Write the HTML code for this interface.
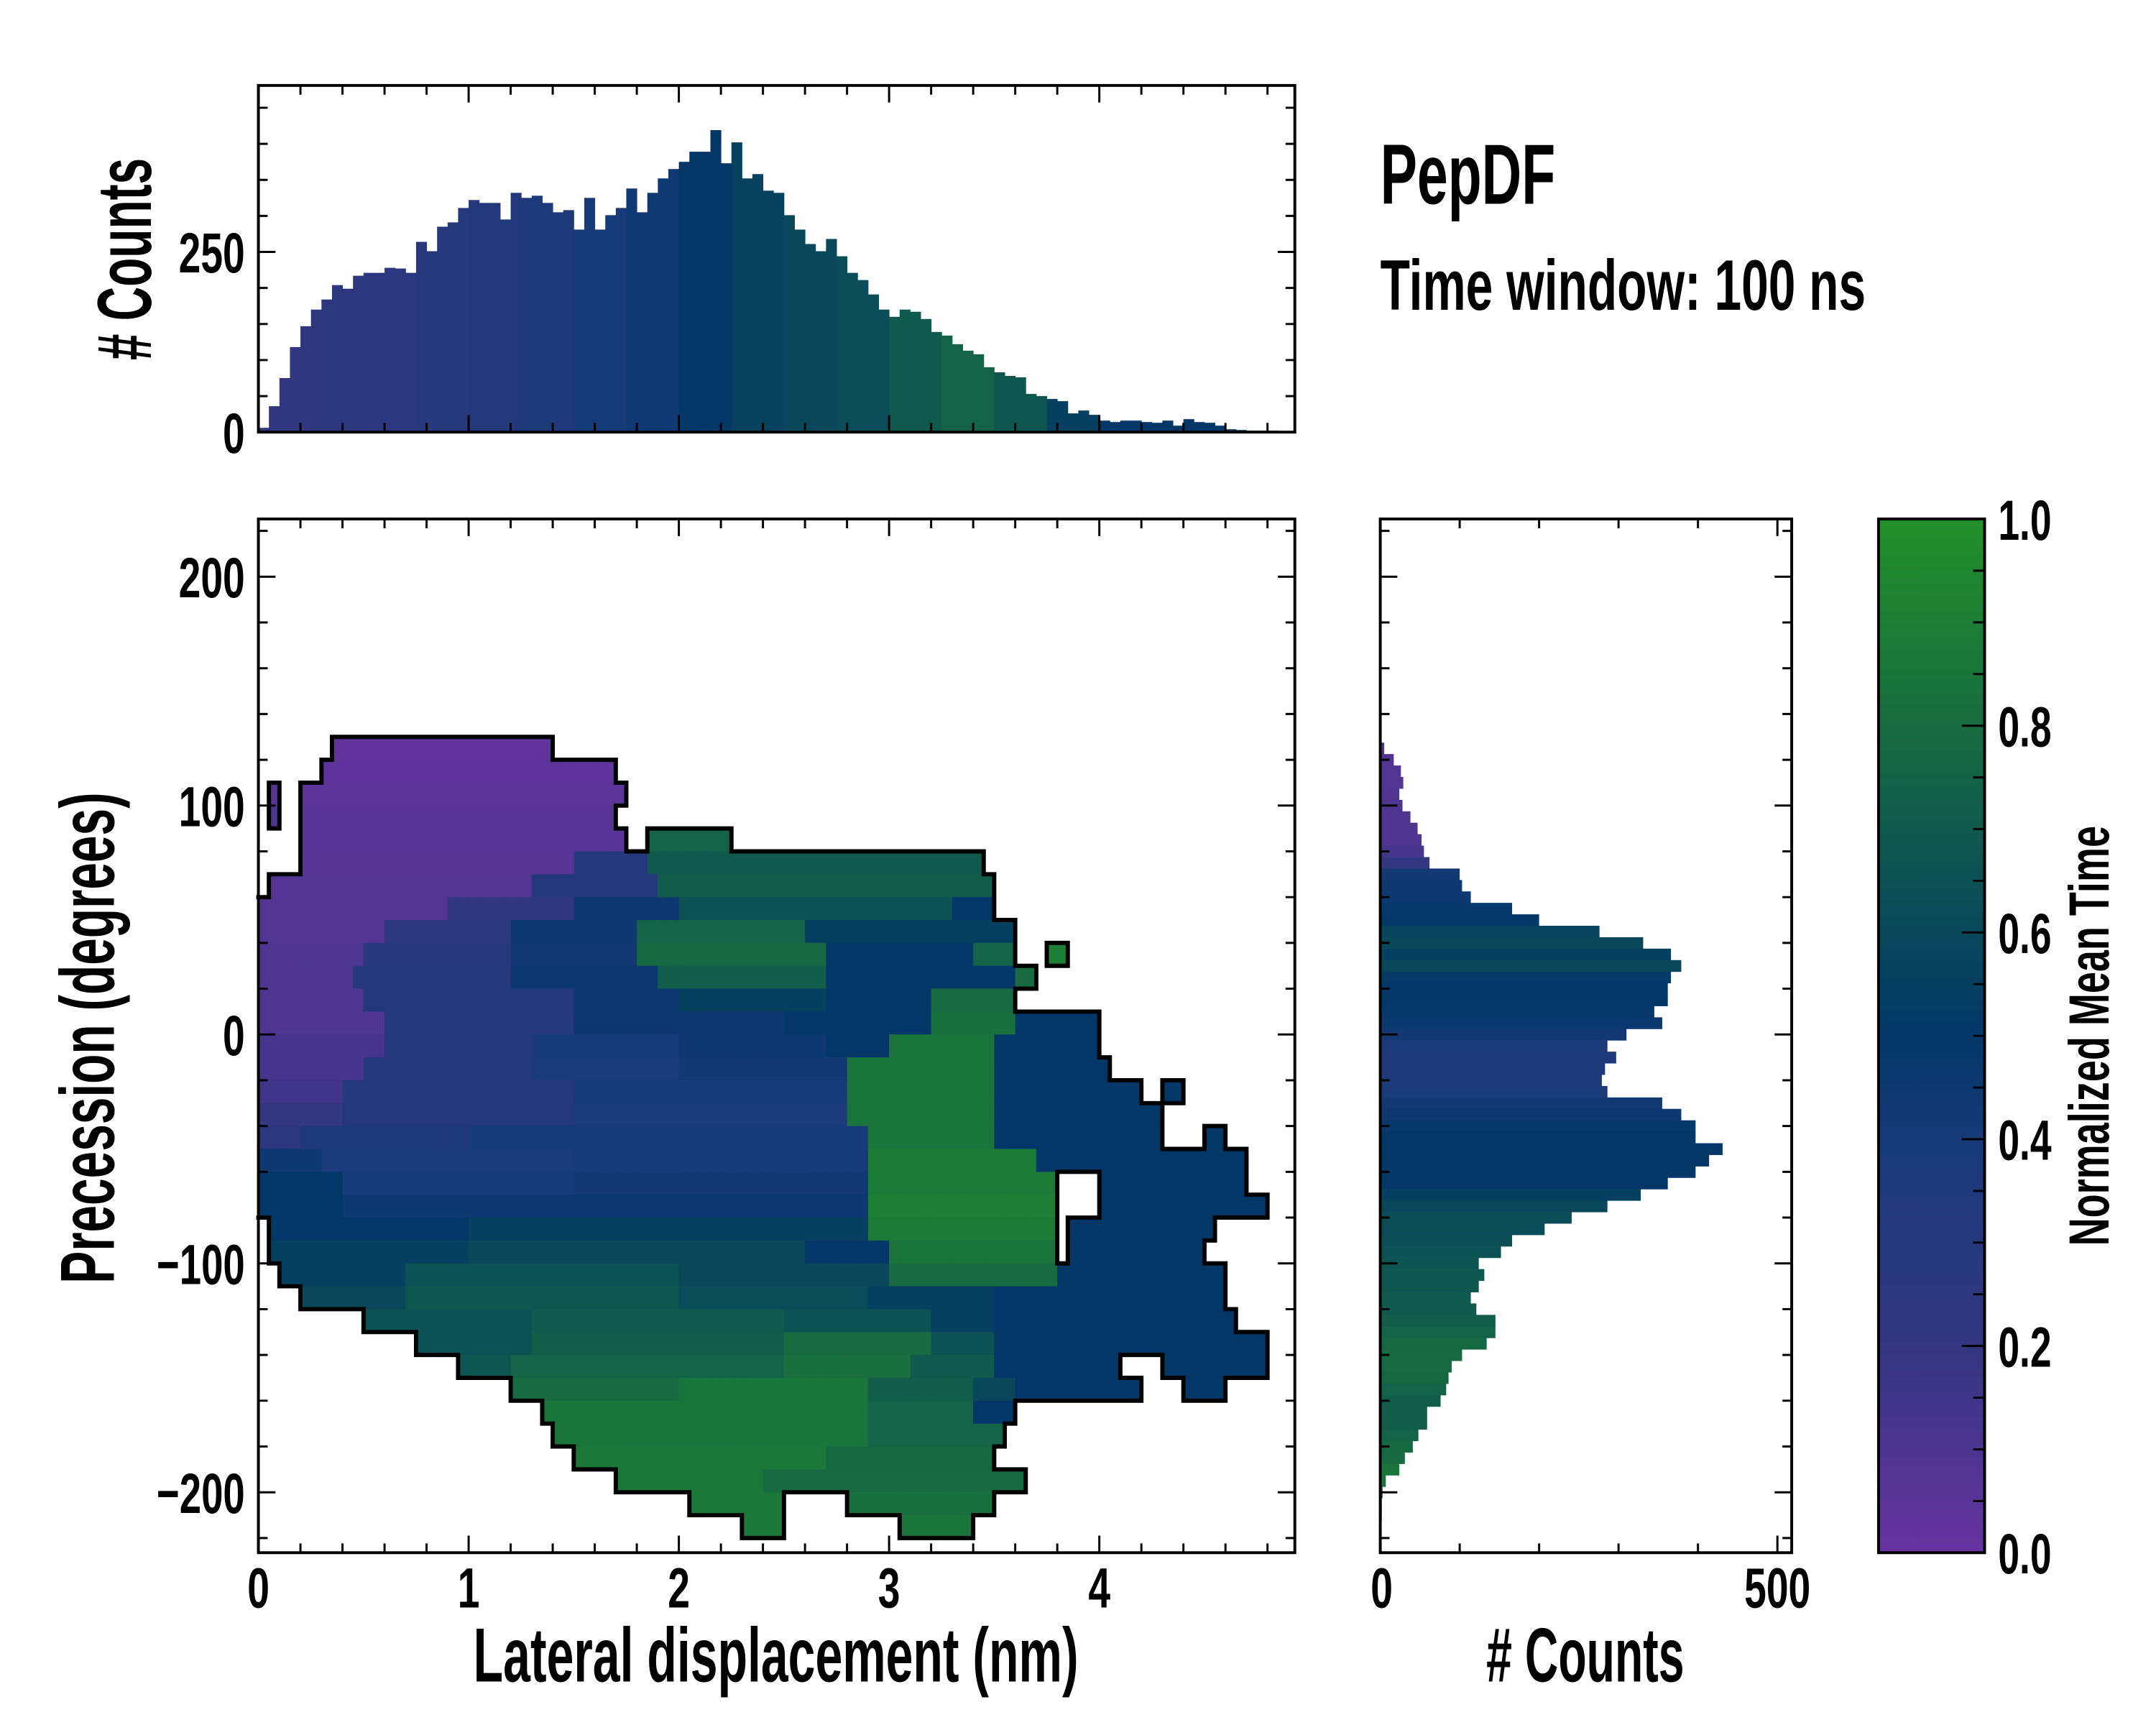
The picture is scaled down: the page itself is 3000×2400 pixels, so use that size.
<!DOCTYPE html>
<html><head><meta charset="utf-8"><style>
html,body{margin:0;padding:0;background:#fff;}
svg{display:block;}
text{font-family:"Liberation Sans Narrow","Liberation Sans",sans-serif;font-weight:bold;fill:#000;}
</style></head><body>
<svg id="fig" xmlns="http://www.w3.org/2000/svg" width="3000" height="2400" viewBox="0 0 3000 2400">
<defs>
<linearGradient id="cmap" x1="0" y1="1" x2="0" y2="0">
<stop offset="0" stop-color="#6633a0"/><stop offset="0.2" stop-color="#333680"/><stop offset="0.4" stop-color="#173a78"/><stop offset="0.5" stop-color="#033768"/><stop offset="0.6" stop-color="#08485a"/><stop offset="0.8" stop-color="#186b40"/><stop offset="1" stop-color="#22902a"/>
</linearGradient>
</defs>
<g transform="scale(0.9905)">
<g id="heat"></g>
<g id="outline"></g>
<g id="tophist"></g>
<g id="righthist"></g>
<rect x="2639" y="729" width="149" height="1452" fill="url(#cmap)"/>
<g id="axes"></g>
<g id="labels"></g>
<text x="1939" y="286" font-size="120" textLength="246" lengthAdjust="spacingAndGlyphs">PepDF</text>
<text x="1939" y="435" font-size="100" textLength="682" lengthAdjust="spacingAndGlyphs">Time window: 100 ns</text>
<text x="1090" y="2362" font-size="108" text-anchor="middle" textLength="850" lengthAdjust="spacingAndGlyphs">Lateral displacement (nm)</text>
<text x="2227" y="2362" font-size="108" text-anchor="middle" textLength="278" lengthAdjust="spacingAndGlyphs"># Counts</text>
<text transform="translate(212,364) rotate(-90)" font-size="108" text-anchor="middle" textLength="284" lengthAdjust="spacingAndGlyphs"># Counts</text>
<text transform="translate(160,1458) rotate(-90)" font-size="108" text-anchor="middle" textLength="690" lengthAdjust="spacingAndGlyphs">Precession (degrees)</text>
<text transform="translate(2962,1455) rotate(-90)" font-size="80" text-anchor="middle" textLength="590" lengthAdjust="spacingAndGlyphs">Normalized Mean Time</text>
</g>
</svg>
<script>
// ---------- data ----------
const topCounts = [6,36,75,118,147,170,184,204,199,217,221,221,228,227,221,264,251,285,291,311,322,318,318,295,332,325,328,318,305,308,281,325,281,301,311,338,305,332,352,365,375,389,389,419,373,402,352,358,335,332,301,281,261,251,268,244,221,211,191,170,160,170,167,157,139,134,122,113,108,90,83,78,76,53,50,46,43,26,30,24,16,14,16,16,14,13,16,9,18,14,13,9,4,3,2,2,2,0];
const topBinWidth = 0.05;
const topTime = [0.22,0.24,0.26,0.28,0.32,0.36,0.4,0.44,0.5,0.56,0.6,0.62,0.7,0.75,0.68,0.55,0.5,0.5,0.5,0.5];
const rightCenters = [125,120,115,110,105,100,95,90,85,80,75,70,65,60,55,50,45,40,35,30,25,20,15,10,5,0,-5,-10,-15,-20,-25,-30,-35,-40,-45,-50,-55,-60,-65,-70,-75,-80,-85,-90,-95,-100,-105,-110,-115,-120,-125,-130,-135,-140,-145,-150,-155,-160,-165,-170,-175,-180,-185,-190,-195,-200,-205,-210];
const rightCounts = [5,17,26,29,24,28,38,47,52,55,62,100,103,114,166,200,276,331,366,379,366,362,362,345,355,310,286,297,283,279,286,355,379,397,397,431,414,397,362,328,286,241,207,166,152,124,131,124,114,121,145,145,134,103,90,86,83,76,59,59,48,41,31,24,7,3,2,2];
const rightTime = [0.08,0.08,0.08,0.08,0.1,0.1,0.1,0.1,0.1,0.12,0.2,0.42,0.45,0.45,0.48,0.5,0.58,0.6,0.55,0.6,0.52,0.5,0.5,0.48,0.46,0.42,0.38,0.35,0.35,0.36,0.38,0.42,0.45,0.48,0.5,0.5,0.5,0.5,0.5,0.55,0.6,0.62,0.62,0.64,0.65,0.66,0.68,0.68,0.7,0.7,0.72,0.75,0.78,0.8,0.8,0.78,0.75,0.72,0.72,0.72,0.75,0.78,0.8,0.85,0.85,0.85,0.85,0.85];
const heatRowTops = [130,120,110,100,90,80,70,60,50,40,30,20,10,0,-10,-20,-30,-40,-50,-60,-70,-80,-90,-100,-110,-120,-130,-140,-150,-160,-170,-180,-190,-200,-210];
const heatSegments = [
 [[0.33,1.4,0.02]],
 [[0.3,1.7,0.03]],
 [[0.05,0.12,0.05],[0.22,1.75,0.04]],
 [[0.05,0.12,0.1],[0.22,1.72,0.05]],
 [[0.22,1.75,0.05],[1.85,2.25,0.75]],
 [[0.2,1.5,0.06],[1.5,1.85,0.3],[1.85,3.45,0.7]],
 [[0.05,1.3,0.07],[1.3,1.9,0.32],[1.9,3.5,0.72]],
 [[0,0.9,0.08],[0.9,1.5,0.22],[1.5,2.0,0.45],[2.0,3.3,0.65],[3.3,3.5,0.5]],
 [[0,0.6,0.08],[0.6,1.2,0.25],[1.2,1.8,0.45],[1.8,2.6,0.75],[2.6,3.6,0.55]],
 [[0,0.5,0.1],[0.5,1.2,0.27],[1.2,1.8,0.42],[1.8,2.7,0.78],[2.7,3.4,0.5],[3.4,3.6,0.75],[3.75,3.85,0.9]],
 [[0,0.45,0.1],[0.45,1.2,0.3],[1.2,1.9,0.45],[1.9,2.7,0.72],[2.7,3.6,0.5],[3.6,3.7,0.8]],
 [[0,0.5,0.1],[0.5,1.5,0.32],[1.5,2.0,0.45],[2.0,2.7,0.55],[2.7,3.2,0.5],[3.2,3.6,0.8]],
 [[0,0.6,0.1],[0.6,1.5,0.3],[1.5,2.5,0.45],[2.5,3.2,0.5],[3.2,3.6,0.82],[3.6,4.0,0.5]],
 [[0,0.6,0.12],[0.6,1.3,0.3],[1.3,2.0,0.4],[2.0,2.7,0.45],[2.7,3.0,0.5],[3.0,3.5,0.85],[3.5,4.0,0.5]],
 [[0,0.5,0.12],[0.5,1.3,0.3],[1.3,2.0,0.38],[2.0,2.8,0.42],[2.8,3.5,0.85],[3.5,4.05,0.5]],
 [[0,0.4,0.15],[0.4,1.5,0.3],[1.5,2.8,0.4],[2.8,3.5,0.85],[3.5,4.2,0.5],[4.3,4.4,0.5]],
 [[0,0.4,0.2],[0.4,1.5,0.32],[1.5,2.8,0.38],[2.8,3.5,0.85],[3.5,4.3,0.5]],
 [[0,0.2,0.25],[0.2,1.0,0.35],[1.0,2.9,0.4],[2.9,3.5,0.85],[3.5,4.3,0.5],[4.5,4.6,0.5]],
 [[0,0.3,0.45],[0.3,1.5,0.38],[1.5,2.9,0.4],[2.9,3.7,0.88],[3.7,4.7,0.5]],
 [[0,0.4,0.5],[0.4,1.5,0.4],[1.5,2.9,0.42],[2.9,3.8,0.88],[4.0,4.7,0.5]],
 [[0,0.4,0.5],[0.4,2.9,0.45],[2.9,3.8,0.9],[4.0,4.8,0.5]],
 [[0.05,1.0,0.5],[1.0,2.9,0.55],[2.9,3.8,0.88],[3.85,4.55,0.5]],
 [[0.05,1.0,0.55],[1.0,2.6,0.6],[2.6,3.0,0.5],[3.0,3.8,0.85],[3.85,4.5,0.5]],
 [[0.1,0.7,0.55],[0.7,2.0,0.65],[2.0,3.0,0.6],[3.0,3.8,0.8],[3.8,4.6,0.5]],
 [[0.2,0.7,0.6],[0.7,2.0,0.68],[2.0,2.9,0.62],[2.9,3.5,0.55],[3.5,4.6,0.5]],
 [[0.5,1.3,0.65],[1.3,2.5,0.7],[2.5,3.2,0.65],[3.2,3.5,0.55],[3.5,4.65,0.5]],
 [[0.75,1.3,0.65],[1.3,2.5,0.72],[2.5,3.2,0.8],[3.2,3.5,0.65],[3.5,4.8,0.5]],
 [[0.95,1.2,0.68],[1.2,2.5,0.75],[2.5,3.1,0.82],[3.1,3.5,0.7],[3.5,4.1,0.5],[4.3,4.8,0.5]],
 [[1.2,2.0,0.8],[2.0,2.9,0.85],[2.9,3.4,0.72],[3.4,3.6,0.6],[3.6,4.2,0.5],[4.4,4.6,0.5]],
 [[1.35,2.9,0.85],[2.9,3.4,0.75],[3.4,3.6,0.5]],
 [[1.4,2.9,0.85],[2.9,3.55,0.75]],
 [[1.5,2.7,0.87],[2.7,3.5,0.78]],
 [[1.7,2.4,0.87],[2.4,3.65,0.8]],
 [[2.05,2.5,0.87],[2.8,3.5,0.82]],
 [[2.3,2.5,0.87],[3.05,3.4,0.85]]
];
const xTicks = [0,1,2,3,4];
const yTicks = [200,100,0,-100,-200];
const topYTicks = [0,250];
const rightXTicks = [0,500];
const cbarTicks = [0.0,0.2,0.4,0.6,0.8,1.0];

// ---------- scales ----------
const X0=363, X1=1819, XMAX=4.93;
const Y0=729, Y1=2181, YTOP=225.2, YBOT=-226.4;
const xMain = v => X0 + v/XMAX*(X1-X0);
const yMain = d => Y0 + (YTOP-d)/(YTOP-YBOT)*(Y1-Y0);
const TY0=120, TY1=607, TMAX=481;
const yTop = c => TY1 - c/TMAX*(TY1-TY0);
const RX0=1939, RX1=2517, RMAX=518;
const xRight = c => RX0 + c/RMAX*(RX1-RX0);
const yCbar = v => Y1 - v*(Y1-Y0);

const stops=[[0,[0x66,0x33,0xa0]],[0.2,[0x33,0x36,0x80]],[0.4,[0x17,0x3a,0x78]],[0.5,[0x03,0x37,0x68]],[0.6,[0x08,0x48,0x5a]],[0.8,[0x18,0x6b,0x40]],[1,[0x22,0x90,0x2a]]];
function cmap(v){v=Math.max(0,Math.min(1,v));for(let i=1;i<stops.length;i++){if(v<=stops[i][0]){const a=stops[i-1],b=stops[i];const t=(v-a[0])/(b[0]-a[0]);const c=a[1].map((x,k)=>Math.round(x+(b[1][k]-x)*t));return `rgb(${c[0]},${c[1]},${c[2]})`;}}return 'rgb(34,144,42)';}

const NS='http://www.w3.org/2000/svg';
function mk(tag,attrs,parent){const e=document.createElementNS(NS,tag);for(const k in attrs)e.setAttribute(k,attrs[k]);parent.appendChild(e);return e;}

// ---------- top histogram ----------
const gTop=document.getElementById('tophist');
topCounts.forEach((c,i)=>{
  if(c<=0)return;
  const x0=i*topBinWidth, x1=x0+topBinWidth;
  const t=topTime[Math.min(topTime.length-1,Math.floor(x0/0.25))];
  const r=mk('rect',{x:xMain(x0),y:yTop(c),width:xMain(x1)-xMain(x0)+0.5,height:yTop(0)-yTop(c),fill:cmap(t)},gTop);
  
  
});

// ---------- right histogram ----------
const gR=document.getElementById('righthist');
rightCenters.forEach((d,i)=>{
  const c=rightCounts[i];
  const yt=yMain(d+2.5), yb=yMain(d-2.5);
  const r=mk('rect',{x:xRight(0),y:yt,width:xRight(c)-xRight(0),height:yb-yt+0.5,fill:cmap(rightTime[i])},gR);
  
  
});

// ---------- heatmap ----------
const gH=document.getElementById('heat'), gO=document.getElementById('outline');
const CW=0.05, NC=Math.ceil(XMAX/CW);
const grid=heatRowTops.map((top,ri)=>{
  const row=new Array(NC).fill(null);
  for(let ci=0;ci<NC;ci++){const xc=(ci+0.5)*CW;for(const s of heatSegments[ri]){if(xc>=s[0]&&xc<s[1]){row[ci]=s[2];}}}
  return row;
});
grid.forEach((row,ri)=>{
  const top=heatRowTops[ri], bot=top-10;
  row.forEach((v,ci)=>{
    if(v===null)return;
    const r=mk('rect',{x:xMain(ci*CW),y:yMain(top),width:xMain((ci+1)*CW)-xMain(ci*CW)+0.6,height:yMain(bot)-yMain(top)+0.6,fill:cmap(v)},gH);
    
    
  });
});
let od='';
grid.forEach((row,ri)=>{
  const top=heatRowTops[ri], bot=top-10;
  row.forEach((v,ci)=>{
    if(v===null)return;
    const xa=xMain(ci*CW), xb=xMain((ci+1)*CW), ya=yMain(top), yb=yMain(bot);
    const up=ri>0?grid[ri-1][ci]:null, dn=ri<grid.length-1?grid[ri+1][ci]:null;
    const lf=ci>0?row[ci-1]:null, rt=ci<NC-1?row[ci+1]:null;
    if(up===null)od+=`M${xa},${ya}H${xb}`;
    if(dn===null)od+=`M${xa},${yb}H${xb}`;
    if(lf===null&&ci>0)od+=`M${xa},${ya}V${yb}`;
    if(rt===null)od+=`M${xb},${ya}V${yb}`;
  });
});
const op=mk('path',{d:od,stroke:'#000',fill:'none','stroke-width':6,'stroke-linecap':'square'},gO);



// ---------- axes & ticks ----------
const gA=document.getElementById('axes'), gL=document.getElementById('labels');
function frame(x,y,w,h,name){const r=mk('rect',{x:x,y:y,width:w,height:h,fill:'none',stroke:'#000','stroke-width':4},gA);}
let td='';
function hTicks(x0,x1,yA,yB,scale,from,to,step,major){
  for(let v=from;v<=to+1e-9;v+=step){const x=scale(v);const isM=Math.abs(v/major-Math.round(v/major))<1e-6;const L=isM?24:13;td+=`M${x},${yB}V${yB-L}M${x},${yA}V${yA+L}`;}
}
function vTicks(y0,y1,xA,xB,scale,from,to,step,major){
  for(let v=from;v<=to+1e-9;v+=step){const y=scale(v);const isM=Math.abs(v/major-Math.round(v/major))<1e-6;const L=isM?24:13;td+=`M${xA},${y}H${xA+L}M${xB},${y}H${xB-L}`;}
}
hTicks(X0,X1,Y0,Y1,xMain,0,4.8,0.2,1);
vTicks(Y0,Y1,X0,X1,yMain,-220,220,20,100);
hTicks(X0,X1,TY0,TY1,xMain,0,4.8,0.2,1);
vTicks(TY0,TY1,X0,X1,yTop,0,450,50,250);
hTicks(RX0,RX1,Y0,Y1,xRight,0,500,100,500);
vTicks(Y0,Y1,RX0,RX1,yMain,-220,220,20,100);
for(let v=0.05;v<1;v+=0.05){const y=yCbar(v);const isM=Math.abs(v*5-Math.round(v*5))<1e-6;td+=`M2788,${y}H${2788-(isM?32:16)}`;}
const tp=mk('path',{d:td,stroke:'#000','stroke-width':3,fill:'none'},gA);


frame(X0,TY0,X1-X0,TY1-TY0,'top-hist-frame');
frame(X0,Y0,X1-X0,Y1-Y0,'main-plot-frame');
frame(RX0,Y0,RX1-RX0,Y1-Y0,'right-hist-frame');
frame(2639,Y0,149,Y1-Y0,'colorbar-frame');

function tlen(s){let n=0;for(const ch of s){n+=(ch==='.')?13:31;}return n;}
function label(txt,x,y,anchor,name){const t=mk('text',{x:x,y:y,'font-size':80,'text-anchor':anchor,textLength:tlen(txt),lengthAdjust:'spacingAndGlyphs'},gL);t.textContent=txt;}
const fmt=v=>(v<0?'\u2212':'')+Math.abs(v);
xTicks.forEach(v=>label(String(v),xMain(v),2258,'middle','x-tick-label'));
yTicks.forEach(v=>label(fmt(v),344,yMain(v)+29,'end','y-tick-label'));
topYTicks.forEach(v=>label(String(v),344,yTop(v)+29,'end','top-hist-y-tick-label'));
rightXTicks.forEach(v=>label(String(v),xRight(v)+(v===0?2:0),2258,'middle','right-hist-x-tick-label'));
cbarTicks.forEach(v=>label(v.toFixed(1),2807,yCbar(v)+29,'start','colorbar-tick-label'));
</script>
</body></html>
